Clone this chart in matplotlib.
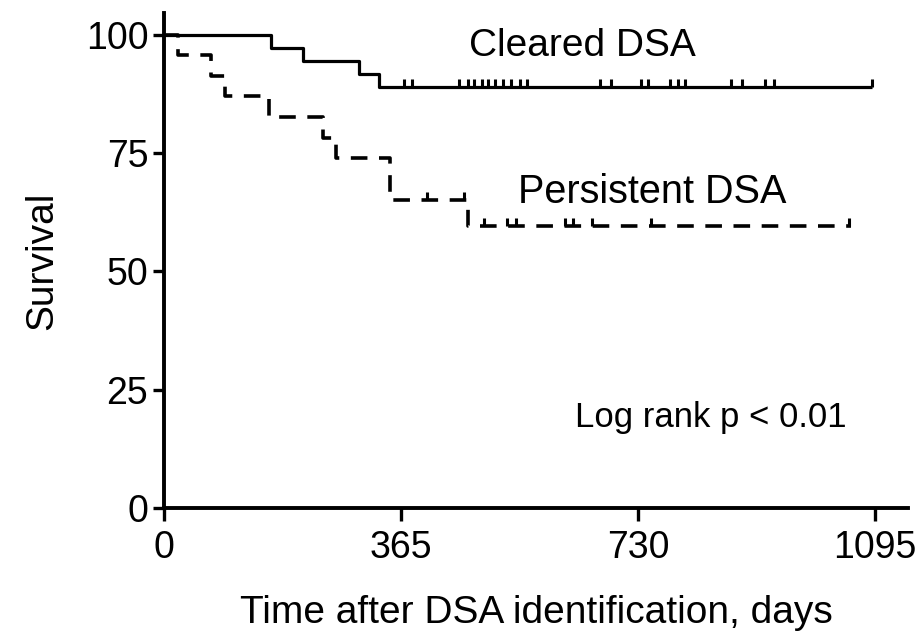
import numpy as np
import matplotlib

matplotlib.use("Agg")
import matplotlib.pyplot as plt
from matplotlib.path import Path

plt.rcParams["font.family"] = ["Liberation Sans", "DejaVu Sans"]

# Kaplan-Meier steps (day, survival %)
cleared_days = [0, 166, 215, 300, 331, 1090]
cleared_surv = [100, 97.2, 94.4, 91.7, 88.9, 88.9]
cleared_censor = [370, 382, 455, 468, 478, 490, 500, 510, 522, 535, 548, 560,
                  672, 688, 735, 746, 780, 792, 803, 873, 890, 925, 940, 1090]

persist_days = [0, 23, 73, 95, 162, 245, 266, 348, 469, 1058]
persist_surv = [100, 95.7, 91.3, 87.0, 82.6, 78.3, 73.9, 65.0, 59.5, 59.5]
persist_censor = [405, 463, 493, 528, 542, 617, 630, 660, 750, 1055]

x_ticks = [0, 365, 730, 1095]
y_ticks = [0, 25, 50, 75, 100]


def surv_at(days, surv, t):
    idx = np.searchsorted(days, t, side="right") - 1
    return np.asarray(surv)[idx]


UP_TICK = Path([(0, 0), (0, 1)])

fig = plt.figure(figsize=(9.24, 6.37), dpi=100)
ax = fig.add_axes([0.177, 0.2025, 0.806, 0.777])

ax.step(cleared_days, cleared_surv, where="post", color="black", lw=2.3,
        solid_capstyle="butt")
ax.plot(cleared_censor, surv_at(cleared_days, cleared_surv, cleared_censor),
        ls="none", marker=UP_TICK, ms=11, mew=2.2, color="black")

ax.step(persist_days, persist_surv, where="post", color="black", lw=2.6,
        linestyle=(0, (4.6, 3.2)))
ax.plot(persist_censor, surv_at(persist_days, persist_surv, persist_censor),
        ls="none", marker=UP_TICK, ms=11, mew=2.2, color="black")

ax.set_xlim(0, 1146)
ax.set_ylim(0, 104.6)
ax.set_xticks(x_ticks)
ax.set_yticks(y_ticks)
for s in ("top", "right"):
    ax.spines[s].set_visible(False)
for s in ("left", "bottom"):
    ax.spines[s].set_linewidth(2.8)
ax.tick_params(axis="both", labelsize=27, width=2.4, color="black")
ax.tick_params(axis="x", length=9, pad=7)
ax.tick_params(axis="y", length=8, pad=3)
ax.set_xlabel("Time after DSA identification, days", fontsize=28, labelpad=21)
ax.set_ylabel("Survival", fontsize=28, labelpad=18)

ax.text(645, 95.6, "Cleared DSA", ha="center", va="baseline", fontsize=28)
ax.text(752, 64.5, "Persistent DSA", ha="center", va="baseline", fontsize=28.5)
ax.text(842, 17.1, "Log rank p < 0.01", ha="center", va="baseline", fontsize=25)

fig.savefig("out.png", dpi=100, facecolor="white")
